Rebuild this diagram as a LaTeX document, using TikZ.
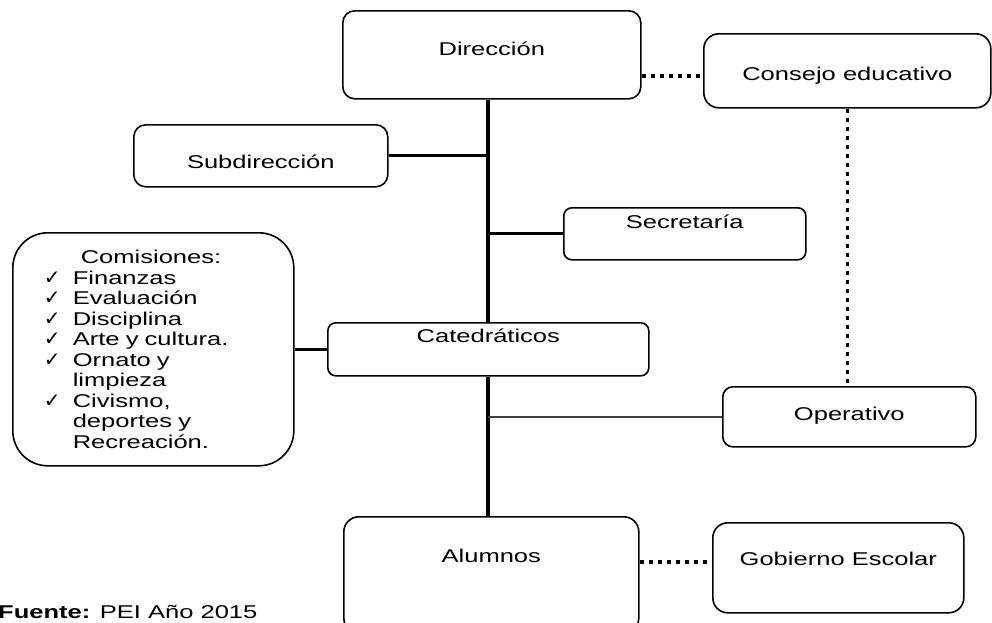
\documentclass[tikz,border=0pt]{standalone}
\usepackage{fontspec}
\setmainfont{Liberation Sans}[FakeStretch=1.38]
\newfontfamily\ckfont{DejaVu Sans}
\usepackage{tikz}
\usetikzlibrary{positioning,calc}

\newcommand{\ck}{\makebox[29pt][l]{\ckfont\fontsize{20}{20}\selectfont\smash{✓}}}
\newcommand{\ckind}{\hspace*{29pt}}

\begin{document}
\begin{tikzpicture}[
    x=1pt, y=-1pt,
    font=\fontsize{18.5}{20.5}\selectfont,
    % --- node styles ---
    orgbox/.style  = {draw=black, line width=1.6pt, rounded corners=12pt,
                      anchor=north west, inner sep=0pt, align=center},
    listbox/.style = {orgbox, rounded corners=35pt, align=left,
                      inner xsep=31pt, inner ysep=0pt},
    trunk/.style   = {line width=4pt},
    branch/.style  = {line width=3pt},
    thinlink/.style = {line width=1.5pt, black!75},
    dotlink/.style = {line width=3.5pt, dash pattern=on 4pt off 5pt},
]
\useasboundingbox (0,0) rectangle (992,622);

%============ TOP ============
\node (direccion) [orgbox, minimum width=298pt, minimum height=88pt,
                   text height=45pt, text depth=43pt] at (342,10) {Dirección};

\node (consejo) [orgbox, rounded corners=15pt, minimum width=287pt, minimum height=74pt,
                 text height=47pt, text depth=27pt] at (703,33) {Consejo educativo};

%============ STAFF ============
\node (subdireccion) [orgbox, minimum width=254pt, minimum height=62pt,
                      text height=44pt, text depth=18pt] at (133,124) {Subdirección};

\node (secretaria) [orgbox, rounded corners=8pt, minimum width=242pt, minimum height=52pt,
                    text height=21pt, text depth=31pt] at (563,207) {Secretaría};

\node (catedraticos) [orgbox, rounded corners=8pt, minimum width=321pt, minimum height=53pt,
                      text height=20pt, text depth=33pt] at (327,322) {Catedráticos};

\node (comisiones) [listbox, text width=219pt, minimum height=233pt] at (12,232)
  {\hspace*{37pt}Comisiones:\\
   \ck Finanzas\\
   \ck Evaluación\\
   \ck Disciplina\\
   \ck Arte y cultura.\\
   \ck Ornato y\\
   \ckind limpieza\\
   \ck Civismo,\\
   \ckind deportes y\\
   \ckind Recreación.};

\node (operativo) [orgbox, rounded corners=10pt, minimum width=253pt, minimum height=60pt,
                   text height=34pt, text depth=26pt] at (722,386) {Operativo};

%============ BOTTOM ============
\node (alumnos) [orgbox, rounded corners=15pt, minimum width=295pt, minimum height=116pt,
                 text height=46pt, text depth=70pt] at (343,516) {Alumnos};

\node (gobierno) [orgbox, rounded corners=15pt, minimum width=251pt, minimum height=90pt,
                  text height=43pt, text depth=47pt] at (712,522) {Gobierno Escolar};

\node (fuente) [anchor=base west, inner sep=0pt] at (-2,618) {\textbf{Fuente:} PEI Año 2015};

%============ CONNECTORS ============
\draw[trunk] (direccion.south -| catedraticos.north) -- (catedraticos.north);
\draw[trunk] (catedraticos.south) -- (catedraticos.south |- alumnos.north);

\draw[branch] (subdireccion.east) -- (subdireccion.east -| catedraticos.north);
\draw[branch] (secretaria.west) -- (secretaria.west -| catedraticos.north);
\draw[branch] (comisiones.east) -- (catedraticos.west);
\draw[thinlink] (operativo.west) -- (operativo.west -| catedraticos.south);

% dotted links
\coordinate (consin) at ([yshift=-5pt]consejo.west);
\coordinate (gobin) at ([yshift=6pt]gobierno.west);
\draw[dotlink] (consin -| direccion.east) -- (consin);
\draw[dotlink] (consejo.south) -- (consejo.south |- operativo.north);
\draw[dotlink] (gobin -| alumnos.east) -- (gobin);

\end{tikzpicture}
\end{document}
